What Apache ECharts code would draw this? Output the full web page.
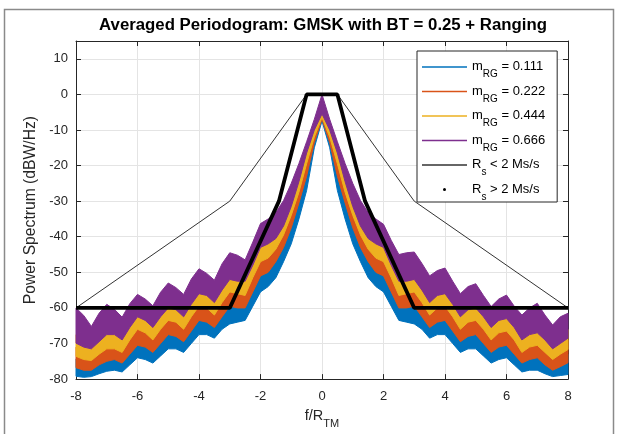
<!DOCTYPE html>
<html><head><meta charset="utf-8">
<script src="https://cdn.jsdelivr.net/npm/echarts@6/dist/echarts.min.js"></script>
<style>html,body{margin:0;padding:0;background:#fff}#c{width:619px;height:434px}</style>
</head><body><div id="c"></div>
<script>
// frequency grid f/R_TM
const F = [-8,-7.75,-7.5,-7.25,-7,-6.75,-6.5,-6.25,-6,-5.75,-5.5,-5.25,-5,-4.75,-4.5,-4.25,-4,-3.75,-3.5,-3.25,-3,-2.75,-2.5,-2.25,-2,-1.75,-1.5,-1.25,-1,-0.75,-0.5,-0.25,0,
 0.25,0.5,0.75,1,1.25,1.5,1.75,2,2.25,2.5,2.75,3,3.25,3.5,3.75,4,4.25,4.5,4.75,5,5.25,5.5,5.75,6,6.25,6.5,6.75,7,7.25,7.5,7.75,8];

// m_RG = 0.666 (purple) envelope
const purpleHi = [-60.0,-62.1,-65.2,-61.5,-59.0,-60.4,-62.6,-58.8,-56.2,-57.5,-59.4,-55.6,-53.0,-54.3,-56.2,-51.9,-49.0,-50.3,-52.2,-47.6,-44.5,-45.2,-46.5,-41.5,-36.3,-35.0,-33.2,-29.8,-25.0,-19.4,-13.3,-7.0,0.0,
 -7.0,-13.3,-19.4,-25.0,-29.8,-33.2,-35.0,-36.5,-41.0,-45.0,-44.5,-44.3,-47.5,-51.0,-49.5,-48.8,-52.5,-56.0,-54.0,-53.2,-56.5,-59.6,-57.5,-56.4,-59.5,-62.0,-60.0,-58.7,-62.0,-64.8,-62.5,-61.5];
const purpleLo = [-69.9,-71.0,-71.5,-69.5,-67.5,-67.5,-69.0,-65.5,-62.5,-63.5,-65.5,-62.5,-60.0,-60.5,-62.5,-59.0,-56.0,-56.5,-58.5,-55.0,-52.0,-52.5,-52.5,-48.0,-43.0,-42.0,-40.5,-37.0,-31.5,-24.5,-16.5,-10.0,-5.5,
 -10.0,-16.5,-24.5,-31.5,-37.0,-40.5,-42.0,-43.0,-48.0,-52.5,-52.5,-52.0,-55.0,-58.5,-56.5,-56.0,-59.0,-62.5,-60.5,-60.0,-62.5,-65.5,-63.5,-63.0,-65.5,-69.0,-67.5,-67.0,-69.0,-71.5,-70.0,-68.5];
// m_RG = 0.444 (yellow)
const yellowHi = [-67.5,-68.5,-69.0,-67.0,-65.0,-65.0,-66.5,-63.0,-60.0,-61.0,-63.0,-60.0,-57.5,-58.0,-60.0,-56.5,-53.5,-54.0,-56.0,-52.5,-49.5,-50.0,-50.0,-45.5,-40.5,-39.5,-38.0,-34.5,-29.0,-22.0,-14.5,-8.5,-5.0,
 -8.5,-14.5,-22.0,-29.0,-34.5,-38.0,-39.5,-40.5,-45.5,-50.0,-50.0,-49.5,-52.5,-56.0,-54.0,-53.5,-56.5,-60.0,-58.0,-57.5,-60.0,-63.0,-61.0,-60.5,-63.0,-66.5,-65.0,-64.5,-66.5,-69.0,-67.5,-66.0];
const yellowLo = [-73.6,-74.5,-74.8,-73.0,-71.5,-71.5,-72.5,-69.0,-66.0,-67.0,-69.0,-66.0,-63.5,-64.0,-66.0,-62.5,-59.5,-60.0,-62.0,-58.5,-55.5,-56.0,-56.5,-51.5,-47.0,-46.0,-43.5,-39.5,-34.0,-27.5,-19.5,-12.0,-6.5,
 -12.0,-19.5,-27.5,-34.0,-39.5,-43.5,-46.0,-47.0,-51.5,-56.5,-56.0,-55.5,-58.5,-62.0,-60.0,-59.5,-62.5,-66.0,-64.0,-63.5,-66.0,-69.0,-67.0,-66.5,-69.0,-72.5,-71.0,-70.5,-72.5,-74.5,-73.0,-71.7];
// m_RG = 0.222 (orange)
const orangeHi = [-71.0,-72.0,-72.3,-70.5,-69.0,-69.0,-70.0,-66.5,-63.5,-64.5,-66.5,-63.5,-61.0,-61.5,-63.5,-60.0,-57.0,-57.5,-59.5,-56.0,-53.0,-53.5,-54.0,-49.0,-44.5,-43.5,-41.0,-37.0,-31.5,-25.0,-17.0,-10.0,-5.5,
 -10.0,-17.0,-25.0,-31.5,-37.0,-41.0,-43.5,-44.5,-49.0,-54.0,-53.5,-53.0,-56.0,-59.5,-57.5,-57.0,-60.0,-63.5,-61.5,-61.0,-63.5,-66.5,-64.5,-64.0,-66.5,-70.0,-68.5,-68.0,-70.0,-72.0,-70.5,-69.0];
const orangeLo = [-76.8,-77.5,-77.5,-76.0,-75.0,-74.5,-75.5,-73.0,-70.5,-71.0,-72.5,-70.0,-67.5,-68.0,-69.5,-66.5,-63.5,-64.0,-65.5,-62.5,-59.5,-60.0,-60.0,-55.5,-51.0,-50.0,-47.0,-43.0,-37.5,-30.5,-23.0,-13.5,-7.0,
 -13.5,-23.0,-30.5,-37.5,-43.0,-47.0,-50.0,-51.0,-55.5,-60.0,-60.0,-59.5,-62.5,-65.5,-64.0,-63.5,-66.5,-69.5,-68.0,-67.5,-70.0,-72.5,-71.0,-70.5,-73.0,-75.5,-74.5,-74.0,-76.0,-77.5,-76.5,-75.4];
// m_RG = 0.111 (blue)
const blueHi = [-74.3,-75.0,-75.0,-73.5,-72.5,-72.0,-73.0,-70.5,-68.0,-68.5,-70.0,-67.5,-65.0,-65.5,-67.0,-64.0,-61.0,-61.5,-63.0,-60.0,-57.0,-57.5,-57.5,-53.0,-48.5,-47.5,-44.5,-40.5,-35.0,-28.0,-20.5,-11.0,-6.0,
 -11.0,-20.5,-28.0,-35.0,-40.5,-44.5,-47.5,-48.5,-53.0,-57.5,-57.5,-57.0,-60.0,-63.0,-61.5,-61.0,-64.0,-67.0,-65.5,-65.0,-67.5,-70.0,-68.5,-68.0,-70.5,-73.0,-72.0,-71.5,-73.5,-75.0,-74.0,-73.0];
const blueLo = [-79.2,-79.5,-79.3,-78.5,-77.8,-77.5,-78.0,-76.0,-74.0,-74.5,-75.5,-73.5,-71.5,-71.5,-72.5,-70.0,-67.5,-67.5,-68.5,-66.0,-64.5,-64.0,-63.5,-59.5,-55.5,-54.0,-51.5,-47.0,-42.0,-35.0,-27.0,-15.0,-7.5,
 -15.0,-27.0,-35.0,-42.0,-47.0,-51.5,-54.0,-55.5,-59.5,-63.5,-64.0,-64.5,-66.0,-68.5,-67.5,-67.5,-70.0,-72.5,-71.5,-71.5,-73.5,-75.5,-74.5,-74.0,-76.0,-78.0,-77.5,-77.5,-78.5,-79.3,-79.0,-78.7];

// spectral masks
const maskLowF = [-8,-3,-0.5,0.5,3,8];
const maskLowV = [-60,-30,0,0,-30,-60];
const maskHighF = [-8,-3,-1.4,-0.5,0.5,1.4,3,8];
const maskHighV = [-60,-60,-30,0,0,-30,-60,-60];

const xTicks = [-8,-6,-4,-2,0,2,4,6,8];
const yTicks = [-80,-70,-60,-50,-40,-30,-20,-10,0,10];

const FONT = '"Liberation Sans", Arial, Helvetica, sans-serif';
const TXT = '#262626';
const COLORS = {b:'#0072BD', o:'#D95319', y:'#EDB120', p:'#7E2F8E'};

function band(name, color, lo, hi) {
  return {
    type: 'custom', name: name, coordinateSystem: 'cartesian2d',
    xAxisIndex: 0, yAxisIndex: 0, silent: true,
    itemStyle: {color: color},
    data: [[0, -40]],
    renderItem: function (params, api) {
      const pts = [];
      for (let i = 0; i < F.length; i++) pts.push(api.coord([F[i], hi[i]]));
      for (let i = F.length - 1; i >= 0; i--) pts.push(api.coord([F[i], lo[i]]));
      return {type: 'polygon', shape: {points: pts},
              style: {fill: color, stroke: color, lineWidth: 1}};
    }
  };
}
const zip = (a, b) => a.map((v, i) => [v, b[i]]);

const LBL = {
  m1: '{m|m}{s|RG}{m| = 0.111}',
  m2: '{m|m}{s|RG}{m| = 0.222}',
  m3: '{m|m}{s|RG}{m| = 0.444}',
  m4: '{m|m}{s|RG}{m| = 0.666}',
  r1: '{m|R}{s|s}{m| < 2 Ms/s}',
  r2: '{m|R}{s|s}{m| > 2 Ms/s}'
};
const linePath = 'path://M0,0H45V1.6H0Z';

const axisCommon = {
  type: 'value',
  axisLine: {show: true, onZero: false, lineStyle: {color: TXT, width: 1}},
  axisTick: {show: true, inside: true, length: 5, lineStyle: {color: TXT}},
};

const chart = echarts.init(document.getElementById('c'), null, {renderer: 'canvas'});
chart.setOption({
  animation: false,
  backgroundColor: '#fff',
  title: {
    text: 'Averaged Periodogram: GMSK with BT = 0.25 + Ranging',
    left: 318, top: 12, textAlign: 'center',
    textStyle: {fontFamily: FONT, fontSize: 16.8, fontWeight: 'bold', color: '#000'}
  },
  grid: {left: 76, right: 51, top: 41, bottom: 52.5, containLabel: false},
  graphic: [{
    type: 'rect', silent: true, z: -10,
    shape: {x: 4.5, y: 9.5, width: 609, height: 440},
    style: {fill: null, stroke: '#8a8a8a', lineWidth: 1.5}
  }],
  xAxis: [
    Object.assign({}, axisCommon, {
      min: -8, max: 8, interval: 2, position: 'bottom',
      axisLabel: {color: TXT, fontSize: 13, fontFamily: FONT, margin: 11,
                  formatter: v => xTicks.includes(v) ? String(v) : ''},
      splitLine: {show: true, lineStyle: {color: '#e4e4e4', width: 1}},
      name: '{m|f/R}{s|TM}', nameLocation: 'middle', nameGap: 22,
      nameTextStyle: {rich: {
        m: {fontFamily: FONT, fontSize: 14.5, color: TXT, lineHeight: 16, verticalAlign: 'top'},
        s: {fontFamily: FONT, fontSize: 11, color: TXT, lineHeight: 12, padding: [10, 0, 0, 0], verticalAlign: 'top'}
      }}
    }),
    Object.assign({}, axisCommon, {
      min: -8, max: 8, interval: 2, position: 'top',
      axisLabel: {show: false}, splitLine: {show: false}
    })
  ],
  yAxis: [
    Object.assign({}, axisCommon, {
      min: -80, max: 15, interval: 10, position: 'left',
      axisLabel: {color: TXT, fontSize: 13, fontFamily: FONT, margin: 8,
                  showMaxLabel: false,
                  formatter: v => yTicks.includes(v) ? String(v) : ''},
      splitLine: {show: true, lineStyle: {color: '#e4e4e4', width: 1}},
      name: 'Power Spectrum (dBW/Hz)', nameLocation: 'middle', nameGap: 30,
      nameTextStyle: {fontFamily: FONT, fontSize: 15.7, color: TXT}
    }),
    Object.assign({}, axisCommon, {
      min: -80, max: 15, interval: 10, position: 'right',
      axisLabel: {show: false}, splitLine: {show: false}
    })
  ],
  legend: {
    orient: 'vertical', left: 417, top: 51,
    padding: [9, 12, 0, 5], itemGap: 5, itemWidth: 45, itemHeight: 3,
    backgroundColor: '#fff', borderColor: TXT, borderWidth: 1, borderRadius: 0,
    selectedMode: false,
    formatter: n => LBL[n],
    textStyle: {rich: {
      m: {fontFamily: FONT, fontSize: 13, color: '#000', lineHeight: 14, verticalAlign: 'top'},
      s: {fontFamily: FONT, fontSize: 10, color: '#000', lineHeight: 11, padding: [9.5, 0, 0, 0], verticalAlign: 'top'}
    }},
    data: [
      {name: 'm1', icon: linePath, itemStyle: {color: COLORS.b, borderWidth: 0}},
      {name: 'm2', icon: linePath, itemStyle: {color: COLORS.o, borderWidth: 0}},
      {name: 'm3', icon: linePath, itemStyle: {color: COLORS.y, borderWidth: 0}},
      {name: 'm4', icon: linePath, itemStyle: {color: COLORS.p, borderWidth: 0}},
      {name: 'r1', icon: linePath, itemStyle: {color: '#333', borderWidth: 0}},
      {name: 'r2', icon: 'circle', itemStyle: {color: '#000', borderWidth: 0}}
    ]
  },
  series: [
    band('m1', COLORS.b, blueLo, blueHi),
    band('m2', COLORS.o, orangeLo, orangeHi),
    band('m3', COLORS.y, yellowLo, yellowHi),
    band('m4', COLORS.p, purpleLo, purpleHi),
    {type: 'line', name: 'r1', data: zip(maskLowF, maskLowV), showSymbol: false, symbol: 'none',
     lineStyle: {color: '#333', width: 1}, itemStyle: {color: '#333'}, silent: true},
    {type: 'line', name: 'r2', data: zip(maskHighF, maskHighV), showSymbol: false, symbol: 'none',
     lineStyle: {color: '#000', width: 3.8}, itemStyle: {color: '#000'}, silent: true}
  ]
});
</script></body></html>
